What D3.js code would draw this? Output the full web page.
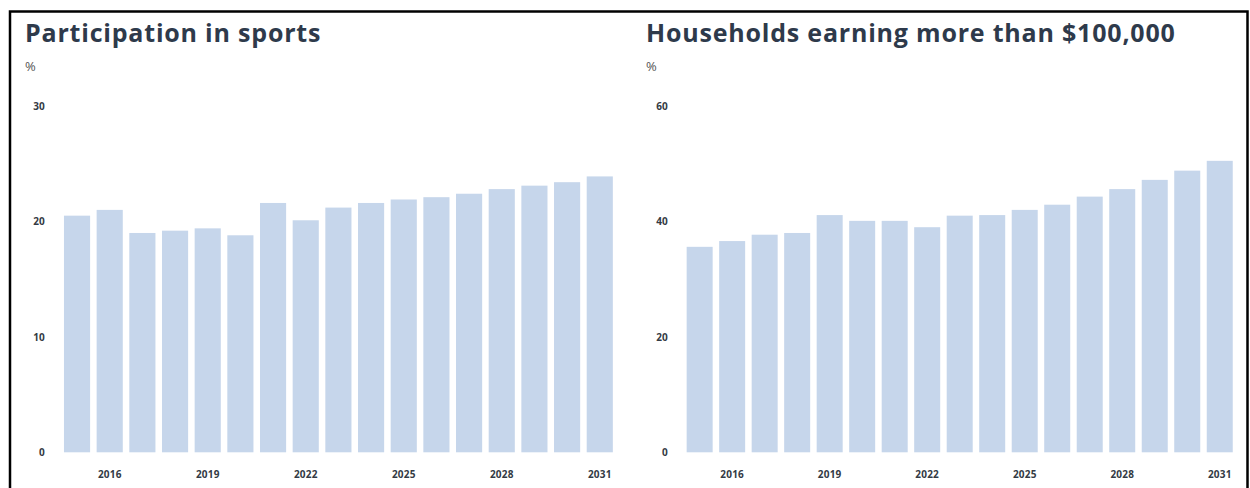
<!DOCTYPE html>
<html>
<head>
<meta charset="utf-8">
<script src="https://cdn.jsdelivr.net/npm/d3@7"></script>
<style>
  html, body { margin: 0; padding: 0; background: #ffffff; }
  svg { display: block; }
</style>
</head>
<body>
<svg id="chart" width="1250" height="488"></svg>
<script>
// Years shown on both panels
const years = [2015, 2016, 2017, 2018, 2019, 2020, 2021, 2022, 2023, 2024, 2025, 2026, 2027, 2028, 2029, 2030, 2031];
const yearTicks = [2016, 2019, 2022, 2025, 2028, 2031];

// Share of people participating in sports (%)
const sportsValues = [20.5, 21.0, 19.0, 19.2, 19.4, 18.8, 21.6, 20.1, 21.2, 21.6, 21.9, 22.1, 22.4, 22.8, 23.1, 23.4, 23.9];
const sportsTicks = [0, 10, 20, 30];

// Share of households earning more than $100,000 (%)
const incomeValues = [35.6, 36.6, 37.7, 38.0, 41.1, 40.1, 40.1, 39.0, 41.0, 41.1, 42.0, 42.9, 44.3, 45.6, 47.2, 48.8, 50.5];
const incomeTicks = [0, 20, 40, 60];

const panels = [
  { title: "Participation in sports", values: sportsValues, ticks: sportsTicks, max: 30,
    left: 25, tickEnd: 45, x0: 60.7, x1: 616.1 },
  { title: "Households earning more than $100,000", values: incomeValues, ticks: incomeTicks, max: 60,
    left: 646, tickEnd: 668, x0: 683.4, x1: 1236 }
];

const svg = d3.select("#chart");
const barColor = "#c6d6eb";
const titleColor = "#2e3a4b";
const labelColor = "#333a44";
const yBottom = 452.3, yTop = 106;

// Frame around the figure
svg.append("path")
  .attr("d", "M10,490 L10,11.5 L1247.5,11.5 L1247.5,490")
  .attr("fill", "none")
  .attr("stroke", "#000")
  .attr("stroke-width", 2.5);

panels.forEach(p => {
  const g = svg.append("g");

  const x = d3.scaleBand().domain(years).range([p.x0, p.x1]).paddingInner(0.2).paddingOuter(0.1);
  const y = d3.scaleLinear().domain([0, p.max]).range([yBottom, yTop]);

  g.append("text")
    .attr("x", p.left).attr("y", 41.5)
    .attr("font-family", "'Open Sans', Inter, sans-serif")
    .attr("font-weight", 700)
    .attr("font-size", 25)
    .attr("letter-spacing", 0.8)
    .attr("fill", titleColor)
    .text(p.title);

  g.append("text")
    .attr("x", p.left).attr("y", 70.5)
    .attr("font-family", "'Open Sans', sans-serif")
    .attr("font-size", 13)
    .attr("fill", "#555")
    .text("%");

  // Bars
  g.selectAll("rect.bar")
    .data(p.values)
    .join("rect")
    .attr("class", "bar")
    .attr("x", (d, i) => x(years[i]))
    .attr("width", x.bandwidth())
    .attr("y", d => y(d))
    .attr("height", d => y(0) - y(d))
    .attr("fill", barColor);

  // Value axis (labels only)
  const yAxis = d3.axisLeft(y).tickValues(p.ticks).tickSize(0).tickPadding(0);
  const ya = g.append("g").attr("transform", `translate(${p.tickEnd},0)`).call(yAxis);
  ya.select(".domain").remove();
  ya.selectAll("text")
    .attr("font-family", "'Open Sans', Inter, sans-serif")
    .attr("font-weight", 700)
    .attr("font-size", 10)
    .attr("letter-spacing", 0.2)
    .attr("fill", labelColor);

  // Year axis (labels only)
  const xAxis = d3.axisBottom(x).tickValues(yearTicks).tickSize(0).tickPadding(0);
  const xa = g.append("g").attr("transform", `translate(0,${yBottom + 19})`).call(xAxis);
  xa.select(".domain").remove();
  xa.selectAll("text")
    .attr("font-family", "'Open Sans', Inter, sans-serif")
    .attr("font-weight", 700)
    .attr("font-size", 10)
    .attr("letter-spacing", 0.2)
    .attr("fill", labelColor);
});
</script>
</body>
</html>
